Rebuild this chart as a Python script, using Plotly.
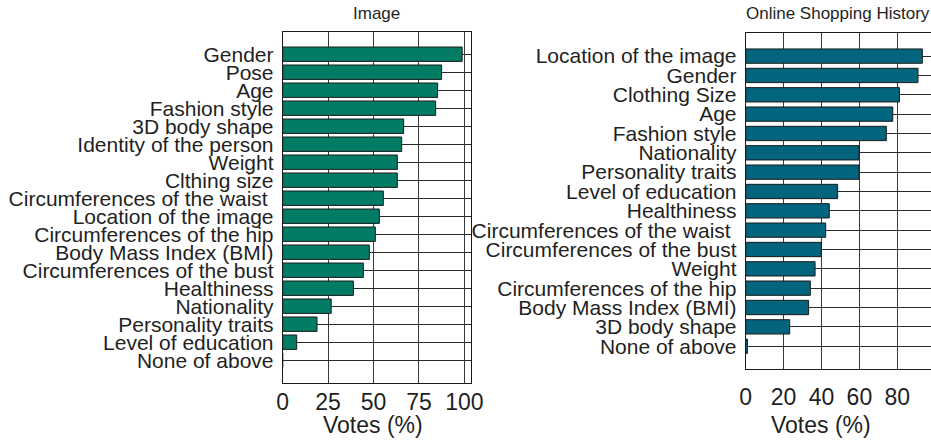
import plotly.graph_objects as go

# ---- data ----
img_categories = ["Gender", "Pose", "Age", "Fashion style", "3D body shape",
                  "Identity of the person", "Weight", "Clthing size",
                  "Circumferences of the waist\u00a0", "Location of the image",
                  "Circumferences of the hip", "Body Mass Index (BMI)",
                  "Circumferences of the bust", "Healthiness", "Nationality",
                  "Personality traits", "Level of education", "None of above"]
img_votes = [98.8, 87.5, 85.3, 84.2, 66.6, 65.5, 63.1, 63.1, 55.4, 53.2,
             51.0, 47.7, 44.4, 38.9, 26.7, 18.9, 7.7, 0.0]

shop_categories = ["Location of the image", "Gender", "Clothing Size", "Age",
                   "Fashion style", "Nationality", "Personality traits",
                   "Level of education", "Healthiness",
                   "Circumferences of the waist\u00a0", "Circumferences of the bust",
                   "Weight", "Circumferences of the hip", "Body Mass Index (BMI)",
                   "3D body shape", "None of above"]
shop_votes = [93.2, 90.9, 81.1, 77.6, 74.2, 59.8, 59.8, 48.5, 44.1, 42.2,
              39.9, 36.6, 34.1, 33.2, 23.2, 0.9]

img_ticks = [0, 25, 50, 75, 100]
shop_ticks = [0, 20, 40, 60, 80]

W, H = 931, 445
FONT = "Liberation Sans, Arial, sans-serif"
TXT = "#1f1f1f"

fig = go.Figure()
fig.add_trace(go.Bar(x=img_votes, y=img_categories, orientation="h",
                     width=0.8, marker=dict(color="#037c66",
                                             line=dict(color="#1a1a1a", width=1)),
                     xaxis="x", yaxis="y", showlegend=False))
fig.add_trace(go.Bar(x=shop_votes, y=shop_categories, orientation="h",
                     width=0.74, marker=dict(color="#03647d",
                                              line=dict(color="#1a1a1a", width=1)),
                     xaxis="x2", yaxis="y2", showlegend=False))

def px_x(p):
    return p / W

def px_y(p):
    return 1 - p / H

common_x = dict(showgrid=True, gridcolor="#3a3a3a", gridwidth=1, automargin=False,
                showline=True, linecolor="#1a1a1a", linewidth=1, mirror=True,
                zeroline=False, ticks="", tickmode="array",
                tickfont=dict(size=23, color=TXT, family=FONT))
common_y = dict(type="category", showgrid=True, gridcolor="#2a2a2a", gridwidth=1,
                automargin=False,
                showline=True, linecolor="#1a1a1a", linewidth=1, mirror=True,
                ticks="", ticklabelstandoff=4, tickmode="array",
                tickfont=dict(size=21, color=TXT, family=FONT))

pad1 = 1.25
pad2 = 1.18
fig.update_layout(
    template="none",
    width=W, height=H, autosize=False,
    margin=dict(l=0, r=0, t=0, b=0, pad=0),
    plot_bgcolor="white", paper_bgcolor="white",
    bargap=0.2,
    xaxis=dict(domain=[px_x(282.7), px_x(470.7)], range=[0, 103.5],
               tickvals=img_ticks, anchor="y", ticklabelstandoff=-1, **common_x),
    yaxis=dict(domain=[px_y(382.7), px_y(31.7)], anchor="x",
               tickvals=img_categories, ticktext=img_categories,
               categoryorder="array", categoryarray=img_categories,
               range=[len(img_categories) - 1 + pad1, -pad1], **common_y),
    xaxis2=dict(domain=[px_x(745.7), px_x(930.5)], range=[0, 97.5],
                tickvals=shop_ticks, anchor="y2", ticklabelstandoff=7, **common_x),
    yaxis2=dict(domain=[px_y(369), px_y(33.3)], anchor="x2",
                tickvals=shop_categories, ticktext=shop_categories,
                categoryorder="array", categoryarray=shop_categories,
                range=[len(shop_categories) - 1 + pad2, -pad2], **common_y),
    annotations=[
        dict(text="Image", x=px_x(376), y=px_y(13), xref="paper", yref="paper",
             showarrow=False, xanchor="center", yanchor="middle",
             font=dict(size=17, color=TXT, family=FONT)),
        dict(text="Online Shopping History", x=px_x(838), y=px_y(13), xref="paper",
             yref="paper", showarrow=False, xanchor="center", yanchor="middle",
             font=dict(size=17, color=TXT, family=FONT)),
        dict(text="Votes (%)", x=px_x(372.5), y=px_y(425), xref="paper", yref="paper",
             showarrow=False, xanchor="center", yanchor="middle",
             font=dict(size=23, color=TXT, family=FONT)),
        dict(text="Votes (%)", x=px_x(820.5), y=px_y(425), xref="paper", yref="paper",
             showarrow=False, xanchor="center", yanchor="middle",
             font=dict(size=23, color=TXT, family=FONT)),
    ],
)

fig.write_html("out.html",
               config={"displayModeBar": False, "responsive": False},
               post_script="document.body.style.margin='0';document.body.style.overflow='hidden';")
